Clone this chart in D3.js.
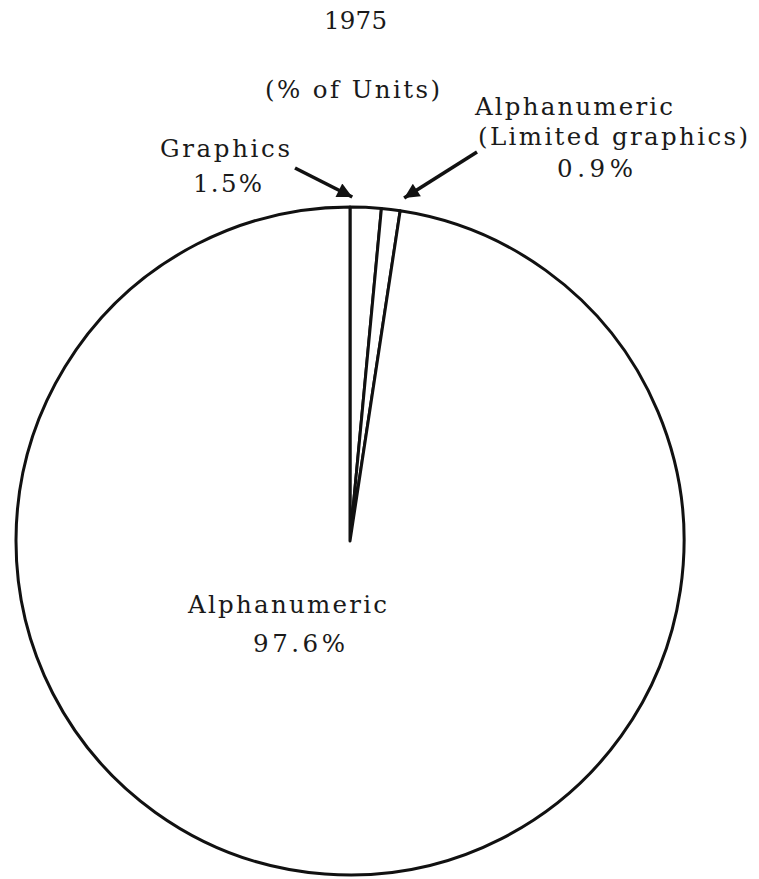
<!DOCTYPE html>
<html>
<head>
<meta charset="utf-8">
<script src="https://cdn.jsdelivr.net/npm/d3@7"></script>
<style>
  html, body { margin: 0; padding: 0; background: #fff; }
  svg { display: block; }
  text { font-family: "DejaVu Serif", "Liberation Serif", serif; fill: #1a1a1a; }
</style>
</head>
<body>
<svg id="chart" width="759" height="879"></svg>
<script>
// ---- data ----
const categories = ["Graphics", "Alphanumeric (Limited graphics)", "Alphanumeric"];
const shares = [1.5, 0.9, 97.6];
const title = "1975";
const subtitle = "(% of Units)";

// ---- layout ----
const cx = 350, cy = 541, R = 334;
const svg = d3.select("#chart");

const pie = d3.pie().sort(null).value(d => d.v).startAngle(0).endAngle(2 * Math.PI);
const arcs = pie(categories.map((c, i) => ({ c, v: shares[i] })));
const arc = d3.arc().innerRadius(0).outerRadius(R);

const g = svg.append("g").attr("transform", `translate(${cx},${cy})`);
g.selectAll("path.slice").data(arcs).join("path")
  .attr("class", "slice")
  .attr("d", arc)
  .attr("fill", "#fff")
  .attr("stroke", "#111")
  .attr("stroke-width", 3)
  .attr("stroke-linejoin", "round");

// arrow marker
const defs = svg.append("defs");
defs.append("marker")
  .attr("id", "ah").attr("viewBox", "0 0 10 10")
  .attr("refX", 10).attr("refY", 5)
  .attr("markerWidth", 26).attr("markerHeight", 15)
  .attr("markerUnits", "userSpaceOnUse")
  .attr("orient", "auto")
  .append("path").attr("d", "M0,0 L10,5 L0,10 Z").attr("fill", "#111");

// arrows pointing to the two small slices (tips just above their outer arc)
function arrowTip(a) {
  const ang = (a.startAngle + a.endAngle) / 2;
  return [cx + Math.sin(ang) * (R + 11), cy - Math.cos(ang) * (R + 11)];
}
const tipG = arrowTip(arcs[0]);
const tipL = arrowTip(arcs[1]);
svg.append("line").attr("x1", 295).attr("y1", 168).attr("x2", tipG[0] - 14).attr("y2", 197)
  .attr("stroke", "#111").attr("stroke-width", 3.6).attr("marker-end", "url(#ah)");
svg.append("line").attr("x1", 477).attr("y1", 152).attr("x2", tipL[0] + 12).attr("y2", 198)
  .attr("stroke", "#111").attr("stroke-width", 3.6).attr("marker-end", "url(#ah)");

// ---- text ----
const fs = 24.5;
function txt(x0, x1, y, s) {
  svg.append("text").attr("x", (x0 + x1) / 2).attr("y", y)
    .attr("text-anchor", "middle")
    .attr("font-size", fs)
    .attr("textLength", x1 - x0)
    .attr("lengthAdjust", "spacing")
    .text(s);
}
const pct = v => v.toFixed(1) + "%";

txt(324, 387, 29, title);
txt(265, 440, 98, subtitle);

txt(160, 290, 157, categories[0]);
txt(193, 262, 192, pct(shares[0]));

txt(475, 673, 115, "Alphanumeric");
txt(478, 748, 145, "(Limited graphics)");
txt(557, 633, 177, pct(shares[1]));

txt(188, 387, 613, categories[2]);
txt(253, 345, 652, pct(shares[2]));
</script>
</body>
</html>
